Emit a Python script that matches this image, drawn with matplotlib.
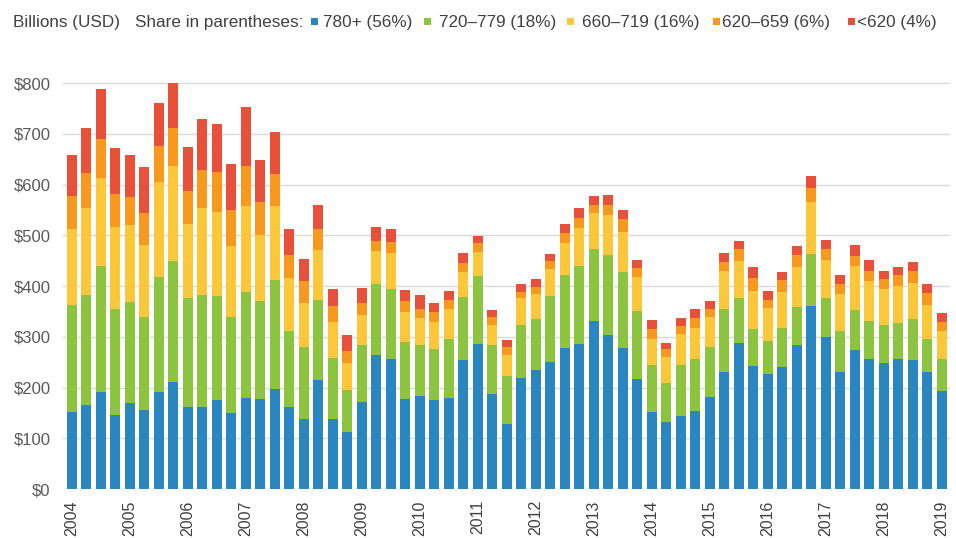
import matplotlib
matplotlib.use("Agg")
import matplotlib.pyplot as plt
import numpy as np
from matplotlib.patches import Rectangle

plt.rcParams['font.family'] = ['Liberation Sans', 'DejaVu Sans']

# Quarterly, 2004 Q1 .. 2019 Q1 (61 quarters)
years = list(range(2004, 2020))
n_quarters = 61

# Cumulative tops, converted to segment values below
top_780 = [151, 166, 192, 146, 169, 156, 191, 211, 161, 161, 175, 149, 179, 178, 197, 161,
           138, 215, 139, 112, 172, 264, 257, 178, 183, 175, 179, 255, 286, 187, 128, 218,
           234, 251, 278, 286, 332, 303, 278, 216, 151, 133, 143, 154, 182, 230, 287, 243,
           226, 241, 284, 360, 299, 230, 274, 256, 248, 256, 254, 230, 194]
top_720 = [363, 383, 440, 355, 368, 340, 418, 450, 376, 383, 380, 340, 388, 370, 411, 311,
           280, 372, 259, 195, 284, 404, 395, 290, 283, 276, 295, 379, 419, 283, 222, 324,
           336, 380, 422, 440, 474, 461, 427, 351, 244, 209, 244, 256, 280, 354, 376, 316,
           291, 317, 359, 464, 377, 312, 353, 332, 323, 328, 335, 295, 256]
top_660 = [513, 553, 613, 516, 520, 480, 605, 636, 522, 554, 545, 478, 558, 501, 557, 416,
           366, 472, 330, 249, 343, 470, 465, 349, 337, 330, 355, 428, 467, 324, 264, 376,
           384, 434, 484, 514, 543, 541, 507, 418, 295, 260, 306, 318, 339, 430, 449, 391,
           356, 388, 438, 566, 451, 384, 439, 410, 394, 401, 407, 363, 312]
top_620 = [577, 622, 690, 582, 576, 544, 676, 712, 588, 628, 625, 549, 637, 566, 621, 461,
           409, 512, 360, 272, 366, 488, 486, 371, 355, 349, 372, 445, 484, 340, 280, 389,
           399, 450, 504, 535, 559, 559, 533, 435, 316, 276, 322, 338, 354, 448, 473, 416,
           373, 411, 461, 593, 474, 405, 459, 430, 414, 421, 430, 386, 330]
top_all = [658, 711, 788, 672, 659, 634, 761, 801, 675, 730, 720, 641, 752, 648, 703, 513,
           453, 559, 394, 303, 397, 516, 513, 393, 382, 366, 390, 465, 499, 353, 293, 405,
           413, 463, 522, 553, 578, 579, 549, 451, 333, 287, 338, 355, 370, 466, 489, 438,
           390, 428, 478, 616, 491, 421, 480, 451, 430, 438, 447, 404, 347]

series_labels = ["780+ (56%)", "720\u2013779 (18%)", "660\u2013719 (16%)",
                 "620\u2013659 (6%)", "<620 (4%)"]
colors = ["#2a86bf", "#8cc43f", "#fdc73a", "#f8991d", "#e9503a"]

tops = [np.array(t, dtype=float) for t in (top_780, top_720, top_660, top_620, top_all)]
segments = [tops[0]] + [tops[i] - tops[i - 1] for i in range(1, 5)]

y_ticks = list(range(0, 900, 100))
y_tick_labels = ["$%d" % v for v in y_ticks]

W, H = 956, 538
fig = plt.figure(figsize=(W / 100, H / 100), dpi=100)
ax = fig.add_axes([0.066, 0.091, 0.928, 0.764])

x = np.arange(n_quarters)
bottom = np.zeros(n_quarters)
for seg, col, lab in zip(segments, colors, series_labels):
    ax.bar(x, seg, bottom=bottom, width=0.69, color=col, linewidth=0, zorder=3, label=lab)
    bottom += seg

ax.set_xlim(-0.6, 60.6)
ax.set_ylim(0, 810)
ax.set_yticks(y_ticks)
ax.set_yticklabels(y_tick_labels)
ax.grid(axis='y', color='#d9d9d9', linewidth=1.0, zorder=0)
ax.set_axisbelow(True)
for s in ax.spines.values():
    s.set_visible(False)

ax.set_xticks(x[::4])
ax.set_xticklabels([str(y) for y in years], rotation=90)
ax.tick_params(axis='x', length=0, pad=8, labelsize=11.5, labelcolor='#404040')
ax.tick_params(axis='y', length=0, pad=9, labelsize=12, labelcolor='#595959')

# Header line with manual legend
yc = 1 - 22.5 / H
fig.text(13 / W, yc, "Billions (USD)", fontsize=12.3, color='#404040', va='center', ha='left')
fig.text(135 / W, yc, "Share in parentheses:", fontsize=12.3, color='#404040', va='center', ha='left')

sq_x = [311, 424, 567, 713, 848]
txt_x = [323, 439, 582, 722, 857]
sq = 7
sq_yc = 1 - 21.5 / H
for sx, tx, col, lab in zip(sq_x, txt_x, colors, series_labels):
    fig.patches.append(Rectangle((sx / W, sq_yc - (sq / 2) / H), sq / W, sq / H,
                                 transform=fig.transFigure, facecolor=col, edgecolor='none'))
    fig.text(tx / W, yc, lab, fontsize=12.3, color='#404040', va='center', ha='left')

fig.savefig("out.png", dpi=100)
